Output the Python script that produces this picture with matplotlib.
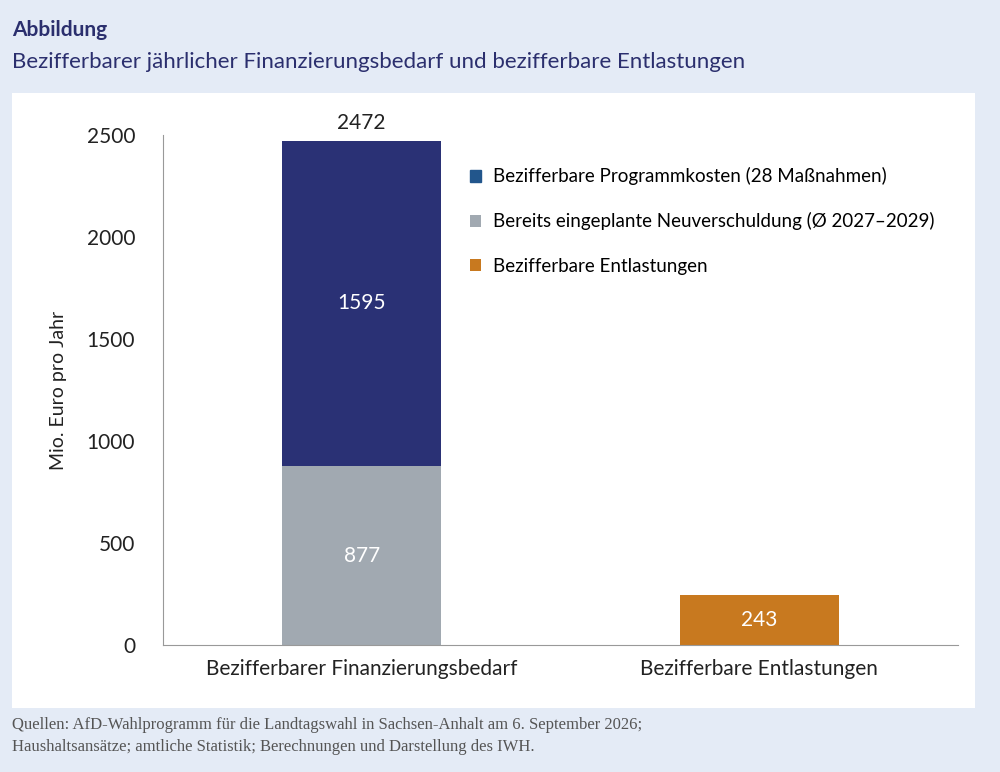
import matplotlib.pyplot as plt
from matplotlib.patches import Rectangle

plt.rcParams['font.family'] = ['Lato', 'DejaVu Sans']

categories = ["Bezifferbarer Finanzierungsbedarf", "Bezifferbare Entlastungen"]
neuverschuldung = [877, 0]
programmkosten = [1595, 0]
entlastungen = [0, 243]
total = 2472

C_BLUE = "#2a3175"
C_GREY = "#a1a9b1"
C_ORANGE = "#c8791f"
C_NAVY = "#2b2f6e"

fig = plt.figure(figsize=(10, 7.72), dpi=100)
fig.patch.set_facecolor("#e4ebf6")
fig.add_artist(Rectangle((0.012, 1 - 708/772), 0.963, (708-93)/772,
                         transform=fig.transFigure, fc="white", ec="none", zorder=0))

fig.text(0.012, 1 - 30/772, "Abbildung", fontsize=15, fontweight="bold", color=C_NAVY, va="center")
fig.text(0.012, 1 - 62/772, "Bezifferbarer jährlicher Finanzierungsbedarf und bezifferbare Entlastungen",
         fontsize=16, color=C_NAVY, va="center")
fig.text(0.012, 1 - 736/772,
         "Quellen: AfD-Wahlprogramm für die Landtagswahl in Sachsen-Anhalt am 6. September 2026;\n"
         "Haushaltsansätze; amtliche Statistik; Berechnungen und Darstellung des IWH.",
         fontsize=12, color="#555555", va="center", family="Liberation Serif", linespacing=1.5)

ax = fig.add_axes([0.163, 1 - 645/772, 0.795, 510/772])
ax.set_facecolor("none")
x = [0, 1]
w = 0.4
ax.bar(x, neuverschuldung, w, color=C_GREY, label="Bereits eingeplante Neuverschuldung (Ø 2027–2029)")
ax.bar(x, programmkosten, w, bottom=neuverschuldung, color=C_BLUE,
       label="Bezifferbare Programmkosten (28 Maßnahmen)")
ax.bar(x, entlastungen, w, color=C_ORANGE, label="Bezifferbare Entlastungen")

ax.text(0, neuverschuldung[0] / 2, str(neuverschuldung[0]), ha="center", va="center", color="white", fontsize=15)
ax.text(0, neuverschuldung[0] + programmkosten[0] / 2, str(programmkosten[0]), ha="center", va="center",
        color="white", fontsize=15)
ax.text(1, entlastungen[1] / 2, str(entlastungen[1]), ha="center", va="center", color="white", fontsize=15)
ax.text(0, total + 40, str(total), ha="center", va="bottom", color="#222222", fontsize=15, clip_on=False)

ax.set_xlim(-0.5, 1.5)
ax.set_ylim(0, 2500)
ax.set_yticks([0, 500, 1000, 1500, 2000, 2500])
ax.set_xticks(x)
ax.set_xticklabels(categories)
ax.tick_params(length=0, labelsize=15, colors="#222222", pad=10)
ax.tick_params(axis="y", pad=20)
ax.set_ylabel("Mio. Euro pro Jahr", fontsize=14, color="#222222", labelpad=14)
for s in ["top", "right"]:
    ax.spines[s].set_visible(False)
for s in ["left", "bottom"]:
    ax.spines[s].set_color("#999999")

h, l = ax.get_legend_handles_labels()
order = [1, 0, 2]
leg = ax.legend([h[i] for i in order], [l[i] for i in order], loc="upper left",
                bbox_to_anchor=(0.365, 0.97), frameon=False, fontsize=13.5,
                handlelength=0.6, handleheight=0.6, labelspacing=1.45, handletextpad=0.6)
leg.legend_handles[0].set_color("#22568c")

fig.savefig("out.png", dpi=100, facecolor=fig.get_facecolor())
